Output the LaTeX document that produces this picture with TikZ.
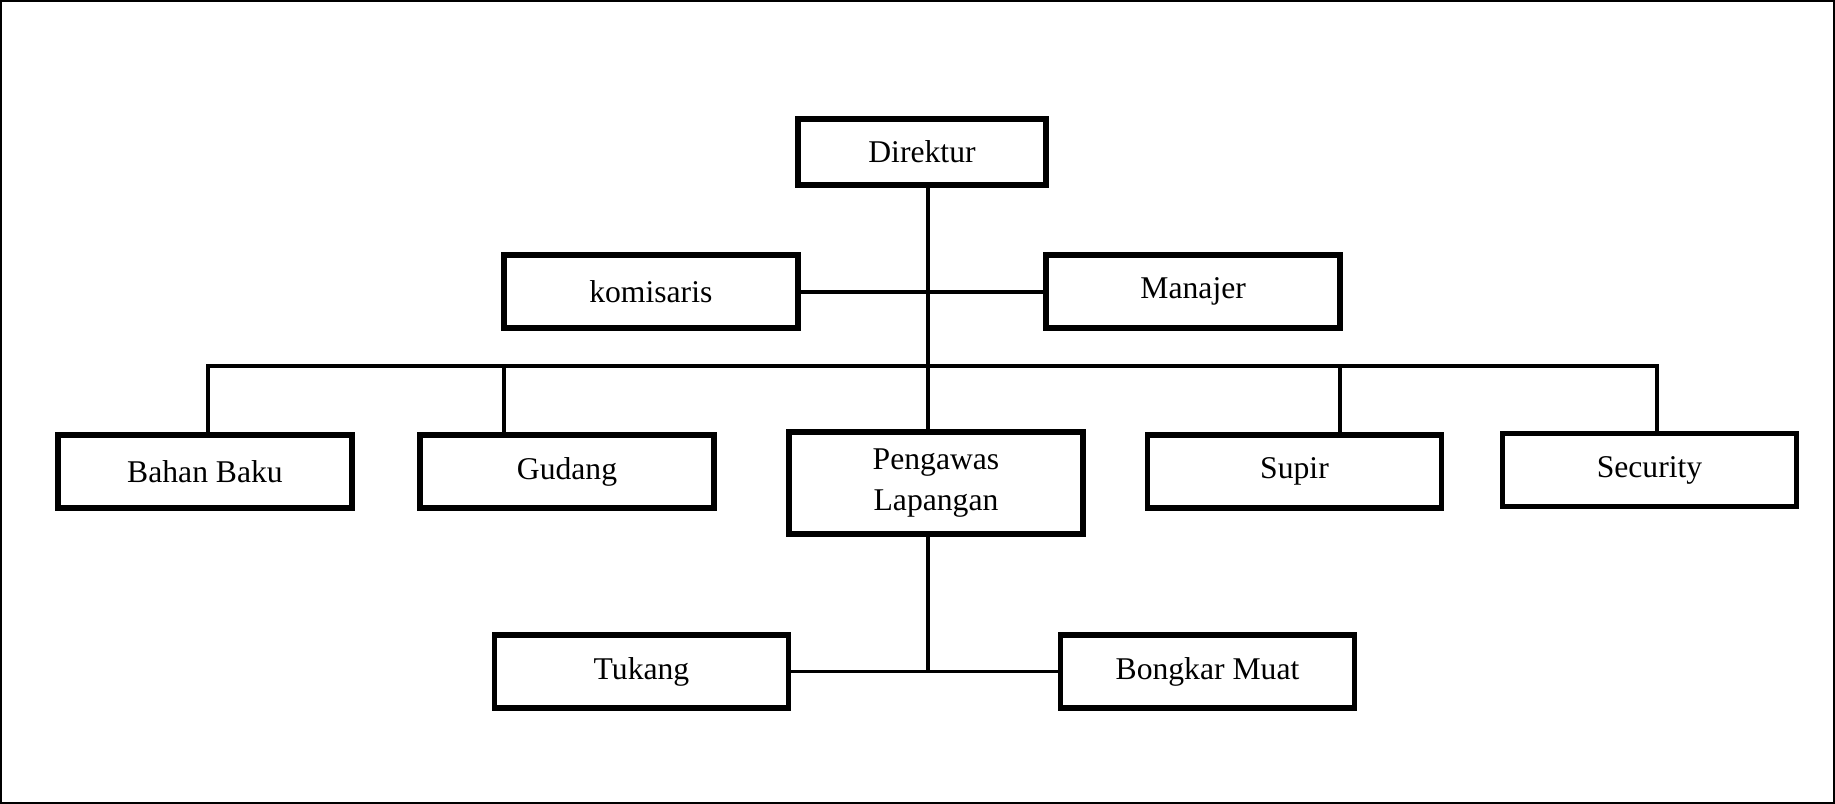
\documentclass[tikz,border=0pt]{standalone}
\usepackage{fontspec}
\setmainfont{Liberation Serif}
\usetikzlibrary{positioning}

\begin{document}
\begin{tikzpicture}[
        x=0.01cm, y=-0.01cm,
        font=\fontsize{9}{11.5}\selectfont,
        unit/.style={rectangle, minimum width=2.94cm, minimum height=0.73cm, inner sep=0pt, outer sep=0pt, text centered, draw=black, line width=1.6pt},
        tall/.style={unit, minimum height=1.02cm, align=center},
        link/.style={line width=1.1pt}
    ]

    \useasboundingbox (0,0) rectangle (1835,804);
    \draw [line width=0.6pt] (0.5,0.5) rectangle (1834.5,803.5);

    \node (direktur) [unit, minimum width=2.48cm, minimum height=0.66cm] at (922,152) {Direktur};
    \node (komisaris) [unit, below left=0.7cm and 0cm of direktur.south west] {komisaris};
    \node (manajer) [unit, below right=0.7cm and 0cm of direktur.south east] {Manajer};

    \node (bahan) [unit] at (205,471.5) {Bahan Baku};
    \node (gudang) [unit] at (567,471.5) {Gudang};
    \node (pengawas) [tall] at (936,483) {Pengawas\\Lapangan};
    \node (supir) [unit] at (1294.5,471.5) {Supir};
    \node (security) [unit] at (1649.5,470) {Security};

    \node (tukang) [unit] at (641.5,671.5) {Tukang};
    \node (bongkar) [unit] at (1207.5,671.5) {Bongkar Muat};

    % bus taps
    \coordinate (spine) at (928,366);
    \coordinate (tapA) at (208,366);
    \coordinate (tapB) at (504,366);
    \coordinate (tapC) at (1340,366);
    \coordinate (tapD) at (1657,366);

    \draw [link] (direktur.south -| spine) -- (pengawas.north -| spine);
    \draw [link] (komisaris.east) -- (manajer.west);

    \draw [link] (bahan.north -| tapA) -- (tapA) -- (tapD) -- (security.north -| tapD);
    \draw [link] (tapB) -- (gudang.north -| tapB);
    \draw [link] (tapC) -- (supir.north -| tapC);

    \draw [link] (pengawas.south -| spine) -- (spine |- tukang.east);
    \draw [link] (tukang.east) -- (bongkar.west);

\end{tikzpicture}
\end{document}
